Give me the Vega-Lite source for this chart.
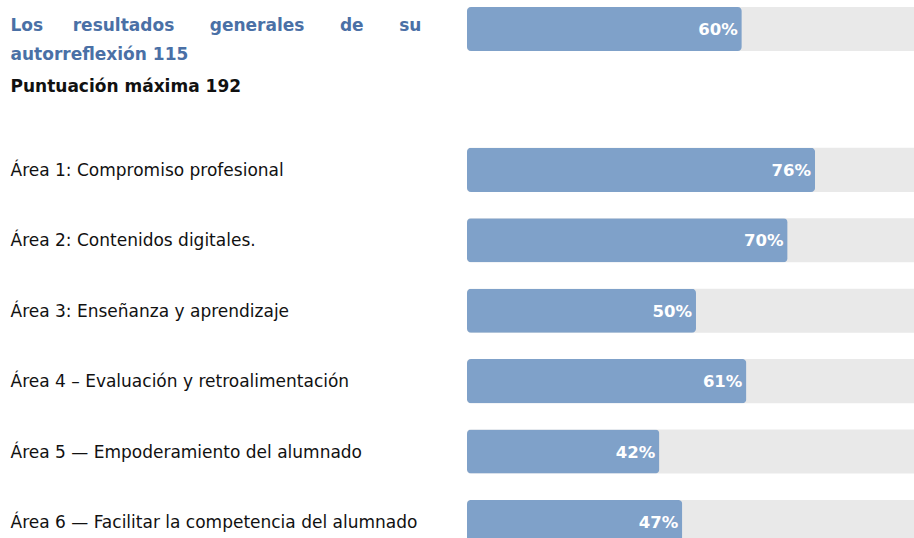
{
  "$schema": "https://vega.github.io/schema/vega-lite/v6.json",
  "autosize": {"type": "none"},
  "padding": {"left": 467, "top": 0, "right": 0, "bottom": 0},
  "width": 447,
  "height": 538,
  "background": "white",
  "config": {"view": {"stroke": null}, "font": "DejaVu Sans"},
  "data": {"values": [
    {"area": "Los resultados generales de su autorreflexión 115", "pct": 0.60},
    {"area": "Área 1: Compromiso profesional", "pct": 0.76},
    {"area": "Área 2: Contenidos digitales.", "pct": 0.70},
    {"area": "Área 3: Enseñanza y aprendizaje", "pct": 0.50},
    {"area": "Área 4 – Evaluación y retroalimentación", "pct": 0.61},
    {"area": "Área 5 — Empoderamiento del alumnado", "pct": 0.42},
    {"area": "Área 6 — Facilitar la competencia del alumnado", "pct": 0.47}
  ]},
  "encoding": {
    "y": {
      "field": "area", "type": "nominal",
      "scale": {
        "domain": [
          "Los resultados generales de su autorreflexión 115",
          "Puntuación máxima 192",
          "Área 1: Compromiso profesional",
          "Área 2: Contenidos digitales.",
          "Área 3: Enseñanza y aprendizaje",
          "Área 4 – Evaluación y retroalimentación",
          "Área 5 — Empoderamiento del alumnado",
          "Área 6 — Facilitar la competencia del alumnado"
        ],
        "range": [0, 551],
        "paddingInner": 0.375,
        "paddingOuter": 0.1
      },
      "axis": {
        "title": null,
        "domain": false,
        "ticks": false,
        "tickSize": 0,
        "labelAlign": "left",
        "labelPadding": 457,
        "labelLimit": 0,
        "labelFont": "DejaVu Sans",
        "labelFontSize": 17,
        "labelColor": {"condition": {"test": "indexof(datum.value, 'autorreflex') >= 0", "value": "#4a70a6"}, "value": "#111111"},
        "labelFontWeight": {"condition": {"test": "indexof(datum.value, 'Área') < 0", "value": "bold"}, "value": "normal"},
        "labelOffset": {"condition": [
          {"test": "indexof(datum.value, 'autorreflex') >= 0", "value": -3},
          {"test": "indexof(datum.value, 'Puntuación') >= 0", "value": -12}
        ], "value": 1},
        "labelLineHeight": 29,
        "labelExpr": "indexof(datum.value, 'autorreflex') >= 0 ? ['Los\u00a0\u00a0\u00a0\u00a0\u00a0resultados\u00a0\u00a0\u00a0\u00a0\u00a0\u00a0generales\u00a0\u00a0\u00a0\u00a0\u00a0\u00a0de\u00a0\u00a0\u00a0\u00a0\u00a0\u00a0su', 'autorreflexión 115'] : datum.value"
      }
    }
  },
  "layer": [
    {
      "mark": {"type": "bar", "color": "#e9e9e9", "cornerRadius": 3},
      "encoding": {
        "x": {"datum": 0, "type": "quantitative", "scale": {"domain": [0, 0.976], "nice": false, "zero": true}, "axis": null},
        "x2": {"datum": 1}
      }
    },
    {
      "mark": {"type": "bar", "color": "#7fa1c9", "cornerRadius": 4},
      "encoding": {
        "x": {"field": "pct", "type": "quantitative"}
      }
    },
    {
      "mark": {"type": "text", "align": "right", "baseline": "middle", "dx": -4, "dy": 1, "color": "white", "font": "DejaVu Sans", "fontWeight": "bold", "fontSize": 16.5},
      "encoding": {
        "x": {"field": "pct", "type": "quantitative"},
        "text": {"field": "pct", "type": "quantitative", "format": ".0%"}
      }
    }
  ]
}
